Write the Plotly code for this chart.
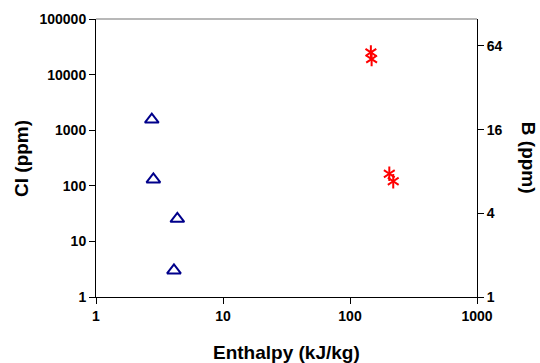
import plotly.graph_objects as go

# Data
cl_enthalpy = [2.75, 2.83, 4.37, 4.11]
cl_ppm = [1550, 130, 25.5, 3.0]

b_enthalpy = [146, 148, 204, 219]
b_ppm = [57.5, 51.5, 7.7, 6.8]

x_ticks = [1, 10, 100, 1000]
cl_ticks = [1, 10, 100, 1000, 10000, 100000]
b_ticks = [1, 4, 16, 64]

FONT = "Liberation Sans, Arial, sans-serif"

def bold(vals):
    return ["<b>%s</b>" % v for v in vals]

fig = go.Figure()
fig.add_trace(go.Scatter(
    x=cl_enthalpy, y=cl_ppm, mode="markers", yaxis="y",
    marker=dict(symbol="triangle-up-open", size=12, color="#00008B",
                line=dict(width=2, color="#00008B")),
    showlegend=False))
for sym in ["y-up-open", "y-down-open"]:
    fig.add_trace(go.Scatter(
        x=b_enthalpy, y=b_ppm, mode="markers", yaxis="y2",
        marker=dict(symbol=sym, size=9, color="#FF0000",
                    line=dict(width=2, color="#FF0000")),
        showlegend=False))

tickfont = dict(family=FONT, size=14, color="black")
axis_common = dict(ticks="outside", ticklen=6, tickwidth=1, tickcolor="black",
                   showline=True, linecolor="black", linewidth=1,
                   showgrid=False, zeroline=False, tickfont=tickfont,
                   automargin=False)
fig.update_layout(
    width=540, height=363,
    margin=dict(l=96, r=63, t=19, b=66),
    paper_bgcolor="white", plot_bgcolor="white",
    font=dict(family=FONT, color="black"),
    xaxis=dict(type="log", range=[0, 3], tickvals=x_ticks,
               ticktext=bold(x_ticks), **axis_common),
    yaxis=dict(type="log", range=[0, 5], tickvals=cl_ticks,
               ticktext=bold(cl_ticks), **axis_common),
    yaxis2=dict(type="log", range=[0, 2], tickvals=b_ticks,
                ticktext=bold(b_ticks),
                overlaying="y", side="right", anchor="x", **axis_common),
)

title_font = dict(family=FONT, size=19, color="black")
fig.add_annotation(text="<b>Enthalpy (kJ/kg)</b>", xref="paper", yref="paper",
                   x=0.5, y=-0.198, showarrow=False, xanchor="center", yanchor="middle",
                   font=title_font)
fig.add_annotation(text="<b>Cl (ppm)</b>", textangle=-90, xref="paper", yref="paper",
                   x=-0.197, y=0.5, showarrow=False, xanchor="center", yanchor="middle",
                   font=title_font)
fig.add_annotation(text="<b>B (ppm)</b>", textangle=90, xref="paper", yref="paper",
                   x=1.137, y=0.5, showarrow=False, xanchor="center", yanchor="middle",
                   font=title_font)
fig.add_shape(type="line", xref="paper", yref="paper", x0=0, x1=1, y0=1, y1=1,
              line=dict(color="#A0A0A0", width=1.5))

fig.write_html("out.html")
